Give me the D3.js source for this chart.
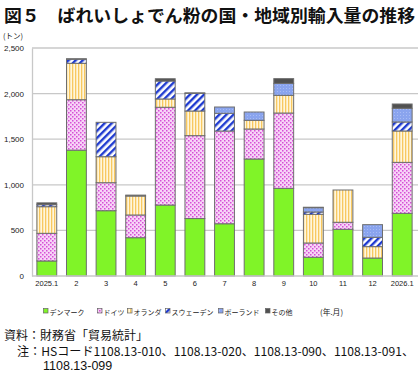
<!DOCTYPE html>
<html><head><meta charset="utf-8">
<script src="https://cdn.jsdelivr.net/npm/d3@7/dist/d3.min.js"></script>
<style>
body{margin:0;background:#fff;}
svg{display:block;font-family:"Noto Sans CJK JP","Liberation Sans",sans-serif;}
</style></head><body>
<svg id="chart" width="420" height="379"></svg>
<script>
const months = ["2025.1","2","3","4","5","6","7","8","9","10","11","12","2026.1"];
const seriesNames = ["デンマーク","ドイツ","オランダ","スウェーデン","ポーランド","その他"];
const denmark     = [165,1380,716,420,778,630,573,1283,961,205,512,197,687];
const germany     = [303,553,307,249,1072,909,1017,329,826,157,77,0,559];
const netherlands = [292,399,285,208,91,270,0,95,194,314,354,125,344];
const sweden      = [22,45,377,0,197,194,194,0,0,26,0,102,99];
const poland      = [0,0,0,0,0,0,69,91,131,47,0,139,150];
const others      = [20,5,0,10,25,5,0,0,52,5,0,0,47];
const yTicks = [0,500,1000,1500,2000,2500];

const svg = d3.select("#chart");
const defs = svg.append("defs");

const pDen = defs.append("pattern").attr("id","pDen").attr("patternUnits","userSpaceOnUse").attr("width",4).attr("height",4);
pDen.append("rect").attr("width",4).attr("height",4).attr("fill","#80f428");

const pGer = defs.append("pattern").attr("id","pGer").attr("patternUnits","userSpaceOnUse").attr("width",4).attr("height",4);
pGer.append("rect").attr("width",4).attr("height",4).attr("fill","#f7d4f7");
pGer.append("rect").attr("x",0).attr("y",0).attr("width",1.5).attr("height",1.5).attr("fill","#d64fd6");
pGer.append("rect").attr("x",2).attr("y",2).attr("width",1.5).attr("height",1.5).attr("fill","#d64fd6");

const pNet = defs.append("pattern").attr("id","pNet").attr("patternUnits","userSpaceOnUse").attr("width",3).attr("height",4);
pNet.append("rect").attr("width",3).attr("height",4).attr("fill","#fff6dc");
pNet.append("rect").attr("x",0).attr("width",1.3).attr("height",4).attr("fill","#f8c860");

const pSwe = defs.append("pattern").attr("id","pSwe").attr("patternUnits","userSpaceOnUse").attr("width",5).attr("height",5).attr("patternTransform","rotate(45)");
pSwe.append("rect").attr("width",5).attr("height",5).attr("fill","#ffffff");
pSwe.append("rect").attr("x",0).attr("width",2.4).attr("height",5).attr("fill","#1e3ad0");

const pPol = defs.append("pattern").attr("id","pPol").attr("patternUnits","userSpaceOnUse").attr("width",3).attr("height",3);
pPol.append("rect").attr("width",3).attr("height",3).attr("fill","#8aa4ee");
pPol.append("rect").attr("x",1).attr("y",1).attr("width",1).attr("height",1).attr("fill","#a8bcf4");

const pOth = defs.append("pattern").attr("id","pOth").attr("patternUnits","userSpaceOnUse").attr("width",4).attr("height",4);
pOth.append("rect").attr("width",4).attr("height",4).attr("fill","#505050");

const fills = ["url(#pDen)","url(#pGer)","url(#pNet)","url(#pSwe)","url(#pPol)","url(#pOth)"];
const keys = ["d","g","n","s","p","o"];
const data = months.map((m,i)=>({m, d:denmark[i], g:germany[i], n:netherlands[i], s:sweden[i], p:poland[i], o:others[i]}));

const x = d3.scaleBand().domain(months).range([32,417]).paddingInner(0.33).paddingOuter(0.165);
const y = d3.scaleLinear().domain([0,2500]).range([276,48]);

svg.append("text").attr("x",4).attr("y",22).attr("font-size",17.5).attr("font-weight","bold").attr("fill","#111")
  .attr("textLength",411).attr("lengthAdjust","spacingAndGlyphs")
  .text("図５　ばれいしょでん粉の国・地域別輸入量の推移");

svg.append("text").attr("x",3).attr("y",39).attr("font-size",7.5).attr("fill","#222").text("(トン)");

svg.append("g").selectAll("line").data(yTicks.filter(t=>t>0)).join("line")
  .attr("x1",32).attr("x2",418).attr("y1",d=>y(d)).attr("y2",d=>y(d))
  .attr("stroke","#c8c8c8").attr("stroke-width",1.3);

const yAxis = svg.append("g").attr("transform","translate(32,0)")
  .call(d3.axisLeft(y).tickValues(yTicks).tickSize(0).tickPadding(8).tickFormat(d3.format(",")));
yAxis.select(".domain").attr("stroke","#c8c8c8").attr("stroke-width",1.3);
yAxis.selectAll("text").attr("font-family","Liberation Sans, Arial, sans-serif").attr("font-size",8).attr("fill","#222");

const stack = d3.stack().keys(keys)(data);
svg.append("g").selectAll("g").data(stack).join("g")
  .attr("fill",(d,i)=>fills[i])
  .selectAll("rect").data(d=>d.filter(s=>s[1]-s[0]>0)).join("rect")
  .attr("x",d=>x(d.data.m)).attr("width",x.bandwidth())
  .attr("y",d=>y(d[1])).attr("height",d=>y(d[0])-y(d[1]))
  .attr("stroke","#6e6e6e").attr("stroke-width",1);

svg.append("line").attr("x1",32).attr("x2",418).attr("y1",y(0)).attr("y2",y(0)).attr("stroke","#c8c8c8").attr("stroke-width",1.3);

const xAxis = svg.append("g").attr("transform",`translate(0,${y(0)})`)
  .call(d3.axisBottom(x).tickSize(0).tickPadding(5));
xAxis.select(".domain").remove();
xAxis.selectAll("text").attr("font-family","Liberation Sans, Arial, sans-serif").attr("font-size",7.5).attr("fill","#222");

// legend
const legX = [43,97,127,165,218,265];
const leg = svg.append("g").selectAll("g").data(seriesNames).join("g")
  .attr("transform",(d,i)=>`translate(${legX[i]},312)`);
leg.append("rect").attr("x",0.5).attr("y",-3.5).attr("width",4.5).attr("height",4.5)
  .attr("fill",(d,i)=>fills[i]).attr("stroke","#666").attr("stroke-width",0.7);
leg.append("text").attr("x",6.5).attr("y",2.6).attr("font-size",7).attr("fill","#222").text(d=>d);
svg.append("text").attr("x",320).attr("y",315).attr("font-size",7.8).attr("fill","#222").text("(年.月)");

svg.append("text").attr("x",4).attr("y",340).attr("font-size",12).attr("fill","#111").text("資料：財務省「貿易統計」");
svg.append("text").attr("x",17).attr("y",356).attr("font-size",12).attr("fill","#111")
  .attr("textLength",397).attr("lengthAdjust","spacingAndGlyphs")
  .text("注：HSコード1108.13-010、1108.13-020、1108.13-090、1108.13-091、");
svg.append("text").attr("x",43).attr("y",370).attr("font-size",12.5)
  .attr("font-family","Liberation Sans, Arial, sans-serif").attr("fill","#111").text("1108.13-099");
</script>
</body></html>
